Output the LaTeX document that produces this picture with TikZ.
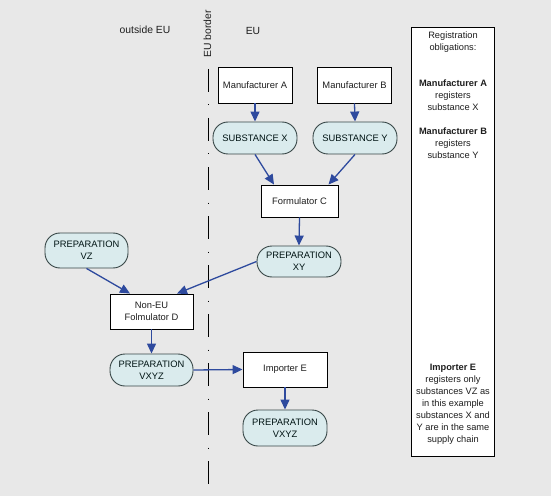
\documentclass[tikz,border=0pt]{standalone}
\usepackage{fontspec}
\setmainfont{Liberation Sans}
\usetikzlibrary{arrows.meta,calc}
\definecolor{bg}{RGB}{232,232,232}
\definecolor{prepfill}{RGB}{218,235,237}
\definecolor{prepdraw}{RGB}{55,70,70}
\definecolor{arrowblue}{RGB}{46,74,158}
\definecolor{txt}{RGB}{30,30,30}
\tikzset{
  base/.style={font=\fontsize{9.4}{12}\selectfont, text=txt, align=center, inner sep=1bp},
  boxnode/.style={base, draw=black, fill=white, line width=0.9bp},
  prep/.style={base, draw=prepdraw, fill=prepfill, line width=0.9bp, rounded corners=15bp, text=black!85!teal},
  flow/.style={draw=arrowblue, line width=1.3bp, -{Triangle[length=10bp,width=9bp]}},
  note/.style={base, font=\fontsize{9.3}{12}\selectfont},
  label/.style={font=\fontsize{10.4}{12}\selectfont, text=txt}
}
\begin{document}
\begin{tikzpicture}[x=1bp,y=-1bp]
\fill[bg] (0,0) rectangle (551,496);
\useasboundingbox (0,0) rectangle (551,496);

% labels
\node[label] (outside) at (145,30) {outside EU};
\node[label] (eu) at (253,31) {EU};
\node[label, rotate=90] (border) at (207.5,34) {EU border};

% border line
\coordinate (btop) at (208.3,69);
\coordinate (bbot) at (208.3,484);
\draw[black, line width=1bp, dash pattern=on 23bp off 12.5bp on 1bp off 12.5bp] (btop) -- (bbot);

% right box
\node[draw=black, fill=white, line width=0.9bp, minimum width=83bp, minimum height=429bp, inner sep=0pt] (reg) at (452.5,241.5) {};
\node[note] (r1) at (453,42) {Registration\\obligations:};
\node[note] (r2) at (453,95) {\textbf{Manufacturer A}\\registers\\substance X};
\node[note] (r3) at (453,143) {\textbf{Manufacturer B}\\registers\\substance Y};
\node[note] (r4) at (453,404.5) {\textbf{Importer E}\\registers only\\substances VZ as\\in this example\\substances X and\\Y are in the same\\supply chain};

% nodes
\node[boxnode, minimum width=74bp, minimum height=36bp] (ma) at (255,85) {Manufacturer A};
\node[boxnode, minimum width=74bp, minimum height=36bp] (mb) at (354.5,85) {Manufacturer B};
\node[prep, minimum width=84bp, minimum height=32bp] (sx) at (255,138) {SUBSTANCE X};
\node[prep, minimum width=84bp, minimum height=32bp] (sy) at (355,138) {SUBSTANCE Y};
\node[boxnode, minimum width=77bp, minimum height=32bp] (fc) at (299.5,201) {Formulator C};
\node[prep, minimum width=84bp, minimum height=31bp] (pxy) at (299,261.5) {PREPARATION\\XY};
\node[prep, minimum width=83bp, minimum height=35bp] (pvz) at (86.5,250.5) {PREPARATION\\VZ};
\node[boxnode, minimum width=83bp, minimum height=35bp] (fd) at (151.5,311.5) {Non-EU\\Folmulator D};
\node[prep, minimum width=83bp, minimum height=32bp] (pl) at (151.5,370) {PREPARATION\\VXYZ};
\node[boxnode, minimum width=84bp, minimum height=35bp] (ie) at (285,369.5) {Importer E};
\node[prep, minimum width=84bp, minimum height=36bp] (pr) at (285,428) {PREPARATION\\VXYZ};

% connectors
\draw[flow] (ma.south) -- (sx.north);
\draw[flow] (mb.south) -- (sy.north);
\draw[flow] (sx.south) -- ([xshift=-25.5bp]fc.north);
\draw[flow] (sy.south) -- ([xshift=29bp]fc.north);
\draw[flow] (fc.south) -- (pxy.north);
\draw[flow] (pvz.south) -- ([xshift=-21.5bp]fd.north);
\draw[flow] (pxy.west) -- ([xshift=25.5bp]fd.north);
\draw[flow] (fd.south) -- (pl.north);
\draw[flow] (pl.east) -- (ie.west);
\draw[flow] (ie.south) -- (pr.north);
\end{tikzpicture}
\end{document}
